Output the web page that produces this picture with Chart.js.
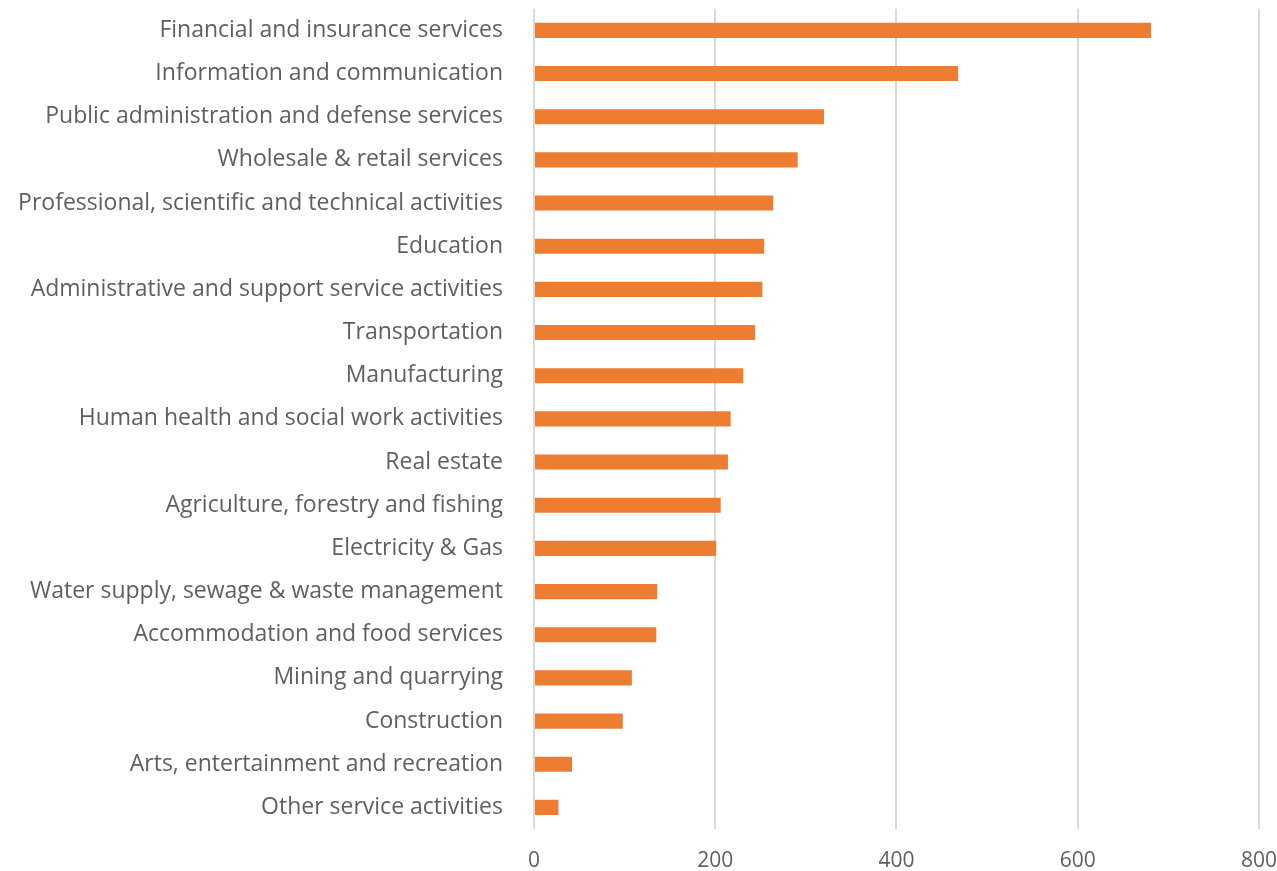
<!DOCTYPE html>
<html>
<head>
<meta charset="utf-8">
<script src="https://cdn.jsdelivr.net/npm/chart.js@4/dist/chart.umd.min.js"></script>
<style>
  html, body { margin: 0; padding: 0; background: #ffffff; }
  #wrap { width: 1277px; height: 871px; position: relative; }
</style>
</head>
<body>
<div id="wrap"><canvas id="chart" width="1277" height="871"></canvas></div>
<script>
// Sectors, ordered from largest to smallest
const sectors = [
  "Financial and insurance services",
  "Information and communication",
  "Public administration and defense services",
  "Wholesale & retail services",
  "Professional, scientific and technical activities",
  "Education",
  "Administrative and support service activities",
  "Transportation",
  "Manufacturing",
  "Human health and social work activities",
  "Real estate",
  "Agriculture, forestry and fishing",
  "Electricity & Gas",
  "Water supply, sewage & waste management",
  "Accommodation and food services",
  "Mining and quarrying",
  "Construction",
  "Arts, entertainment and recreation",
  "Other service activities"
];

const sectorValues = [681, 468, 320, 291, 264, 254, 252, 244, 231, 217, 214, 206, 201, 136, 135, 108, 98, 42, 27];

const axisTicks = [0, 200, 400, 600, 800];

const fontFamily = "'Open Sans', 'Noto Sans', sans-serif";
const textColor = "#5f5f5f";

new Chart(document.getElementById("chart"), {
  type: "bar",
  data: {
    labels: sectors,
    datasets: [{
      data: sectorValues,
      backgroundColor: "#ED7D31",
      borderWidth: 0,
      categoryPercentage: 1.0,
      barPercentage: 0.35
    }]
  },
  options: {
    indexAxis: "y",
    responsive: false,
    animation: false,
    layout: { padding: 0 },
    plugins: { legend: { display: false }, tooltip: { enabled: false } },
    scales: {
      x: {
        min: axisTicks[0],
        max: axisTicks[axisTicks.length - 1],
        afterBuildTicks: (scale) => { scale.ticks = axisTicks.map(v => ({ value: v })); },
        afterFit: (scale) => { scale.height = 42; },
        grid: { color: "#d9d9d9", lineWidth: 2, drawTicks: true, tickLength: 19, tickColor: "rgba(0,0,0,0)" },
        border: { display: false },
        ticks: { color: textColor, font: { family: fontFamily, size: 21 }, padding: 0 }
      },
      y: {
        afterFit: (scale) => { scale.width = 534; },
        grid: { display: false, drawTicks: true, tickLength: 36 },
        border: { display: false },
        ticks: { color: textColor, font: { family: fontFamily, size: 23 }, padding: -5, autoSkip: false }
      }
    }
  }
});
</script>
</body>
</html>
